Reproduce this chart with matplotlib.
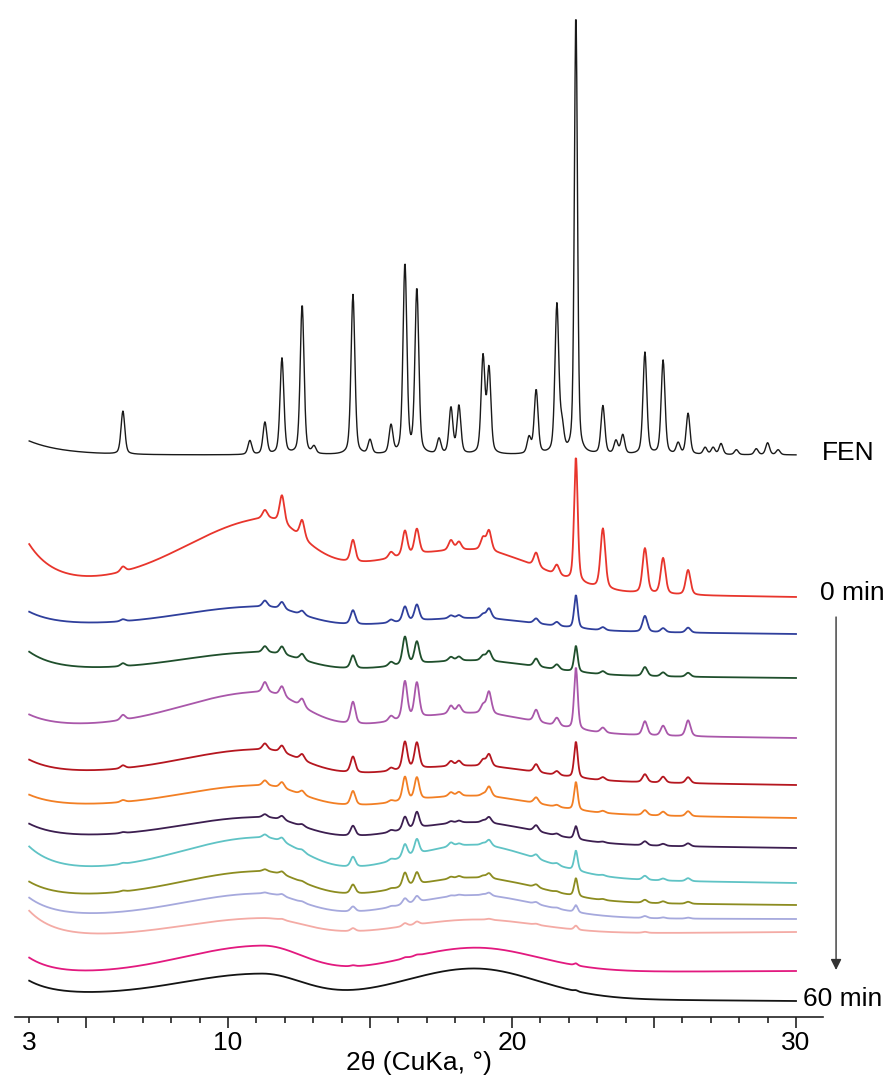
import numpy as np
import matplotlib.pyplot as plt

plt.rcParams['font.family'] = ['Liberation Sans', 'DejaVu Sans']

# 2-theta grid of the scans (deg)
two_theta = np.arange(3.0, 30.001, 0.02)

# FEN reference pattern: peak positions (deg) and heights (arb.)
fen_pos = [6.30, 10.77, 11.30, 11.90, 12.61, 13.03, 14.40, 15.00, 15.74, 16.23,
           16.65, 17.43, 17.85, 18.13, 18.98, 19.19, 20.60, 20.85, 21.58, 21.76,
           22.25, 23.20, 23.66, 23.90, 24.68, 25.32, 25.85, 26.20, 26.80, 27.08,
           27.36, 27.90, 28.60, 29.00, 29.37]
fen_height = [43, 14, 32, 96, 150, 7, 160, 14, 28, 190,
              165, 15, 46, 48, 96, 84, 16, 64, 148, 24,
              442, 48, 13, 19, 102, 94, 11, 41, 7, 7,
              11, 5, 6, 12, 5]
fen_base = 562
fen_low = 14

# peaks followed in the milled samples
peak_pos = [6.30, 11.30, 11.90, 12.61, 14.40, 15.74, 16.23, 16.65, 17.85, 18.13,
            18.98, 19.19, 20.85, 21.58, 22.25, 23.20, 24.68, 25.32, 26.20]

# milled samples, 0 min (top) to 60 min (bottom)
colors = ['#e8352c', '#2f3f9c', '#1f4f2c', '#a957aa', '#b5161f', '#f27f24',
          '#3c1e50', '#5fc3c5', '#8c8c20', '#a6a9dd', '#f4aba5', '#e2197f',
          '#141414']
base_left = [432, 392, 347, 290, 244, 211, 180, 146, 120, 100, 79, 42, 22]
base_right = [420, 383, 339, 279, 232, 199, 169, 134, 112, 98, 85, 46, 16]
low_angle = [40, 13, 18, 12, 13, 11, 13, 24, 15, 19, 27, 17, 14]
halo1 = [63, 21, 20, 38, 27, 24, 23, 37, 28, 24, 18, 28, 23]
halo2 = [42, 12, 14, 20, 14, 17, 21, 33, 24, 23, 15, 25, 30]
halo2_left = [4.0, 2.6, 2.6, 2.6, 2.6, 2.6, 2.4, 2.4, 2.4, 2.4, 2.4, 2.4, 2.4]
peak_heights = [
    [5, 8, 28, 18, 22, 6, 25, 25, 10, 8, 12, 20, 14, 10, 125, 60, 45, 36, 25],
    [2, 6, 7, 4, 14, 3, 15, 16, 3, 3, 4, 10, 5, 4, 33, 3, 16, 4, 5],
    [3, 6, 8, 6, 13, 4, 28, 22, 4, 4, 5, 10, 8, 5, 26, 3, 9, 4, 4],
    [5, 10, 10, 8, 22, 5, 38, 35, 8, 8, 8, 22, 12, 8, 62, 5, 14, 10, 16],
    [3, 6, 7, 6, 16, 3, 28, 26, 5, 5, 6, 12, 8, 4, 36, 3, 8, 6, 6],
    [2, 5, 6, 4, 14, 2, 24, 22, 4, 4, 2, 10, 6, 2, 28, 2, 5, 4, 5],
    [1, 3, 4, 2, 10, 2, 13, 16, 2, 2, 2, 6, 6, 2, 13, 1, 4, 2, 3],
    [1, 3, 4, 2, 10, 2, 13, 15, 4, 2, 2, 6, 4, 2, 20, 1, 4, 2, 3],
    [1, 2, 3, 1, 9, 1, 14, 12, 2, 2, 2, 5, 3, 1, 18, 1, 3, 2, 2],
    [0, 1, 2, 1, 5, 1, 6, 6, 1, 1, 1, 3, 2, 1, 7, 0, 2, 1, 1],
    [0, 0, 1, 0, 3, 0, 3, 3, 0, 0, 0, 1, 1, 0, 4, 0, 1, 0, 0],
    [0, 0, 0, 0, 1, 0, 1, 1, 0, 0, 0, 0, 0, 0, 2, 0, 0, 0, 0],
    [0, 0, 0, 0, 0, 0, 0, 0, 0, 0, 0, 0, 0, 0, 1, 0, 0, 0, 0],
]


def peak(x, c, h, w, eta=0.4):
    d = (x - c) / w
    return h * (eta / (1 + 4 * d**2) + (1 - eta) * np.exp(-4 * np.log(2) * d**2))


def hump(x, c, h, sl, sr):
    s = np.where(x < c, sl, sr)
    return h * np.exp(-0.5 * ((x - c) / s)**2)


fig = plt.figure(figsize=(8.88, 10.8), dpi=100)
ax = fig.add_axes([15 / 888, 63 / 1080, 808 / 888, 1007 / 1080])

# FEN
y = fen_base + fen_low * np.exp(-(two_theta - 3) / 1.2)
for c, h in zip(fen_pos, fen_height):
    y = y + peak(two_theta, c, h, 0.13 if c == 22.25 else 0.16)
ax.plot(two_theta, y, color='#1a1a1a', lw=1.0)

# milled samples
for i, col in enumerate(colors):
    y = base_left[i] + (base_right[i] - base_left[i]) * (two_theta - 3) / 27
    y = y + low_angle[i] * np.exp(-(two_theta - 3) / 0.9)
    y = y + hump(two_theta, 11.2, halo1[i], 2.8, 1.4)
    y = y + hump(two_theta, 18.7, halo2[i], halo2_left[i], 2.2)
    for c, h in zip(peak_pos, peak_heights[i]):
        y = y + peak(two_theta, c, h, 0.15 if c == 22.25 else 0.2)
    ax.plot(two_theta, y, color=col, lw=1.3)

ax.set_xlim(2.5, 30.95)
ax.set_ylim(0, 1007)

for s in ['left', 'right', 'top']:
    ax.spines[s].set_visible(False)
ax.spines['bottom'].set_linewidth(1.2)
ax.spines['bottom'].set_color('#222222')
ax.set_yticks([])

ax.set_xticks([3, 5, 10, 15, 20, 25, 30])
ax.set_xticklabels(['3', '', '10', '', '20', '', '30'])
ax.set_xticks(np.arange(3, 31, 1), minor=True)
ax.tick_params(axis='x', which='major', direction='out', length=8, width=1.2,
               color='#222222', labelsize=19, pad=2)
ax.tick_params(axis='x', which='minor', direction='out', length=4, width=1.2,
               color='#222222')
ax.xaxis.get_major_ticks()[0].tick1line.set_markersize(4)
ax.set_xlabel('2θ (CuKa, °)', fontsize=19, labelpad=-3)

ax.text(30.92, 564, 'FEN', fontsize=19, va='center', ha='left', clip_on=False)
ax.text(30.85, 424, '0 min', fontsize=19, va='center', ha='left', clip_on=False)
ax.text(30.25, 18, '60 min', fontsize=19, va='center', ha='left', clip_on=False)
ax.annotate('', xy=(31.41, 47), xytext=(31.41, 400), annotation_clip=False,
            arrowprops=dict(arrowstyle='-|>', color='#333333', lw=1.0,
                            mutation_scale=16, shrinkA=0, shrinkB=0))

fig.savefig('out.png', dpi=100)
